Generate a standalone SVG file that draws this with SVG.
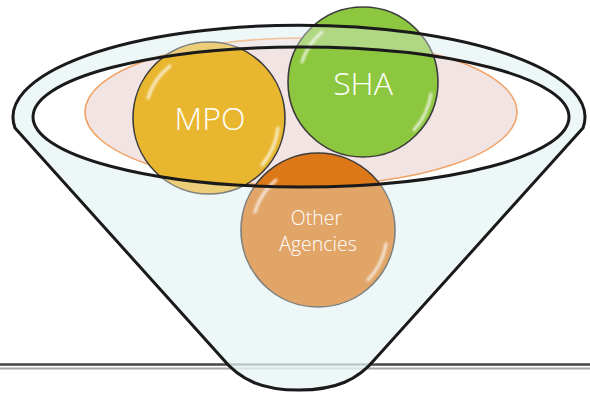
<svg xmlns="http://www.w3.org/2000/svg" width="590" height="395" viewBox="0 0 590 395">
  <style>
    .ball { stroke: #3c3c3c; stroke-width: 1.6; }
    .gloss { fill: none; stroke: #ffffff; stroke-linecap: round; opacity: 0.75; }
    .rim { fill: none; stroke: #1a1a1a; stroke-width: 3; }
    .label { fill: #ffffff; font-family: "Open Sans", "Liberation Sans", sans-serif; font-weight: 300; text-anchor: middle; }
  </style>
  <defs>
    <filter id="soft" x="-20%" y="-20%" width="140%" height="140%">
      <feGaussianBlur stdDeviation="0.9"/>
    </filter>
    <path id="funnel" d="M 15 128 L 222 358 C 240 380 262 390 299 390 C 336 390 358 380 376 358 L 583 128 A 286 92 0 1 0 15 128 Z"/>
    <clipPath id="funnel-clip">
      <use href="#funnel"/>
    </clipPath>
    <linearGradient id="shine" x1="0" y1="0" x2="0" y2="1">
      <stop offset="0" stop-color="#ffffff" stop-opacity="0"/>
      <stop offset="0.15" stop-color="#ffffff" stop-opacity="0.9"/>
      <stop offset="0.9" stop-color="#ffffff" stop-opacity="0.9"/>
      <stop offset="1" stop-color="#ffffff" stop-opacity="0"/>
    </linearGradient>
  </defs>

  <!-- floor line -->
  <g id="floor">
    <line x1="0" y1="364.5" x2="590" y2="364.5" stroke="#454545" stroke-width="2.5"/>
    <line x1="0" y1="368.5" x2="590" y2="368.5" stroke="#a8a8a8" stroke-width="2"/>
  </g>

  <!-- glass funnel body and opening -->
  <g id="funnel-back">
    <use href="#funnel" fill="#eef8f8"/>
    <!-- floor seen through the glass -->
    <g clip-path="url(#funnel-clip)" opacity="0.5">
      <line x1="0" y1="364.5" x2="590" y2="364.5" stroke="#5a6464" stroke-width="2.5"/>
      <line x1="0" y1="368.5" x2="590" y2="368.5" stroke="#aab4b4" stroke-width="2"/>
    </g>
    <ellipse cx="301" cy="117" rx="268" ry="70" fill="#ffffff"/>
    <ellipse cx="301" cy="112" rx="216" ry="74" fill="#f3e4e4" stroke="#f0a468" stroke-width="1.6"/>
  </g>

  <!-- balls -->
  <g id="mpo">
    <circle class="ball" cx="209" cy="118" r="76" fill="#e9b72f"/>
    <path class="gloss" filter="url(#soft)" stroke-width="3" d="M 148 98 A 64 64 0 0 1 170 66"/>
    <path class="gloss" filter="url(#soft)" stroke-width="3" d="M 278 128 A 70 70 0 0 1 262 165"/>
    <text class="label" x="210" y="130" font-size="32">MPO</text>
  </g>
  <g id="sha">
    <circle class="ball" cx="363" cy="82" r="75" fill="#8dc63f"/>
    <path class="gloss" filter="url(#soft)" stroke-width="3" d="M 302 62 A 64 64 0 0 1 322 32"/>
    <path class="gloss" filter="url(#soft)" stroke-width="3" d="M 431 94 A 70 70 0 0 1 414 130"/>
    <text class="label" x="363" y="95" font-size="32">SHA</text>
  </g>
  <g id="other-agencies">
    <circle class="ball" cx="318" cy="230" r="77" fill="#dc7818"/>
    <path class="gloss" filter="url(#soft)" stroke-width="3" d="M 255 212 A 66 66 0 0 1 276 180"/>
    <path class="gloss" filter="url(#soft)" stroke-width="3" d="M 386 244 A 70 70 0 0 1 368 280"/>
  </g>

  <!-- glass over the balls: rim band and cone front -->
  <g id="funnel-front">
    <path fill="#eef8f8" fill-opacity="0.36" fill-rule="evenodd"
      d="M 15 128 L 222 358 C 240 380 262 390 299 390 C 336 390 358 380 376 358 L 583 128 A 286 92 0 1 0 15 128 Z M 33 117 A 268 70 0 1 0 569 117 A 268 70 0 1 0 33 117 Z"/>
    <path d="M 566 150 L 370 366" stroke="url(#shine)" stroke-width="7" fill="none" opacity="0.8"/>
    <use href="#funnel" class="rim"/>
    <ellipse class="rim" cx="301" cy="117" rx="268" ry="70"/>
  </g>

  <!-- label sits on top of the glass -->
  <g id="other-agencies-label">
    <text class="label" font-size="19.5" fill="#fbf3ea">
      <tspan x="319" y="225">Other</tspan>
      <tspan x="318" y="251">Agencies</tspan>
    </text>
  </g>
</svg>
